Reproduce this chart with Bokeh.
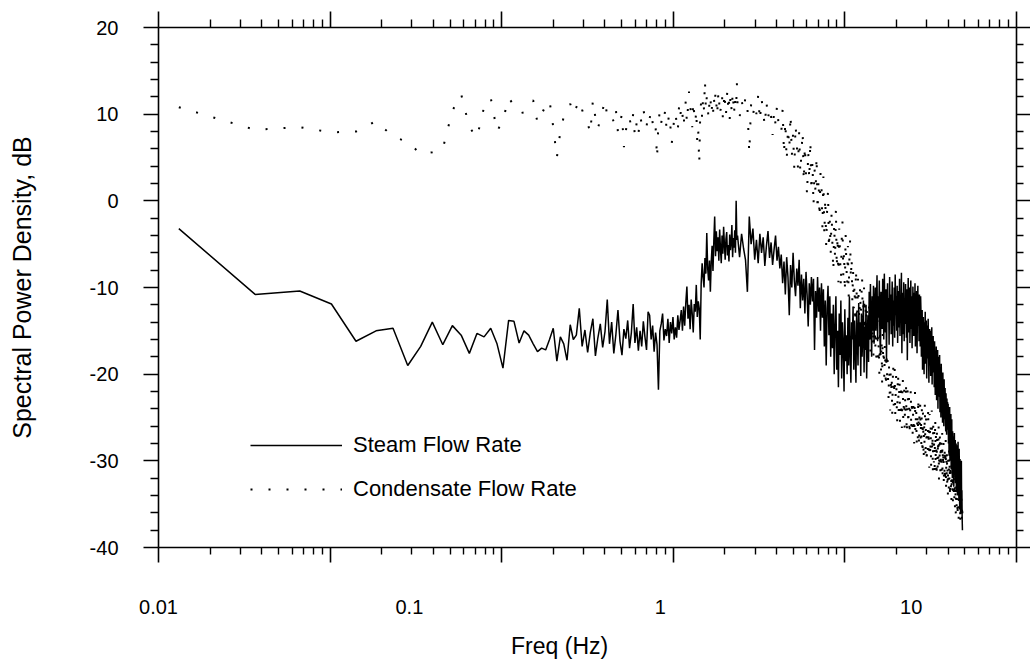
from bokeh.plotting import figure
from bokeh.models import (LogAxis, LinearAxis, FixedTicker, Legend, LegendItem,
                          Range1d, ColumnDataSource, LogScale,
                          CustomJSTickFormatter)
from bokeh.embed import file_html
from bokeh.resources import INLINE

# ---------------- data ----------------
DF = 0.0127           # frequency resolution, Hz (bin spacing)
HIGH_START_BIN = 160  # from this bin on, every 3rd bin is listed
HIGH_STEP = 3

# Steam flow rate, dB, bins 1..159
STEAM_LOW = [
    -3.2, -10.8, -10.4, -11.9, -16.2, -15.0, -14.7, -19.0, -16.8, -14.0, -16.6,
    -14.4, -15.5, -17.6, -15.3, -15.7, -14.7, -16.5, -19.3, -13.8, -13.9, -16.4,
    -15.0, -15.5, -16.5, -17.4, -17.0, -17.2, -16.0, -14.7, -18.5, -15.7, -16.5, -18.4, -14.3, -16.0, -15.5, -12.4,
    -16.8, -14.9, -17.5, -15.2, -13.6, -17.9, -15.8, -14.2, -16.9, -15.1,
    -11.4,
    -16.5, -14.0, -17.6, -15.4,
    -12.6,
    -16.2, -17.8, -14.8, -15.9, -13.8, -17.0, -15.2,
    -11.9,
    -16.4, -14.6, -17.3, -15.0, -16.8, -13.9, -15.7, -17.2, -12.8,
    -13.2,
    -16.0, -14.4, -17.4, -15.2, -16.6,
    -21.8,
    -15.0, -14.2, -13.0, -16.1, -14.8, -15.6, -13.6, -16.4, -14.0, -15.3, -13.4, -16.0, -14.6, -15.8, -13.2, -14.9,
    -13.8, -12.6, -15.0, -12.2, -14.4, -11.8, -9.9, -13.6, -12.0, -14.8, -11.4, -13.0, -15.2, -11.9, -12.8, -9.7, -13.4, -11.6, -12.4,
    -16.0,
    -9.5, -7.2, -8.8, -10.0, -6.6, -8.4, -3.7, -7.8, -9.2, -6.9,
    -10.5,
    -7.0, -5.2, -8.1, -4.6, -1.8, -6.4, -3.5, -5.8,
    -4.2, -6.9, -3.3, -5.5, -7.2, -4.0, -6.1, -3.0, -5.0, -6.8, -4.4, -3.6, -6.3, -5.1, -7.0, -3.9, -5.7, -4.8, -2.8, -6.5, -4.3, -5.4, -3.4, -6.0,
    0.0,
    -4.5,
]

# Steam flow rate, dB, bins 160, 163, 166, ...
STEAM_HIGH = [
    -4.0, -6.5, -3.8, -5.5, -6.8, -10.5, -1.8, -5.0, -3.2, -6.8, -4.5, -7.2, -3.8,
    -6.0, -4.2, -7.5, -5.2, -3.5, -6.6, -4.8, -7.4, -5.6, -4.0, -6.9, -5.3,
    -7.8, -6.2, -9.5, -7.0, -10.8, -6.5, -8.8, -13.2, -7.4, -10.0, -6.0, -9.2, -11.0, -7.8, -9.8, -6.8,
    -12.4, -8.5, -11.5, -9.0, -13.0, -8.2, -10.8, -14.5, -9.5, -12.0,
    -8.8, -11.6, -9.0, -17.2, -10.4, -13.5, -8.8, -12.8, -10.0, -15.0,
    -9.5, -13.5, -10.2, -16.8, -11.5, -19.0, -12.4, -9.8, -15.5, -11.0, -18.0,
    -13.0, -17.0, -12.0, -20.0, -14.5, -11.0, -19.5, -15.0, -21.5, -13.0, -17.8, -11.5,
    -20.5, -14.0, -16.5, -22.0, -12.5, -18.5, -15.5, -20.0, -13.5, -19.0, -11.0, -17.5,
    -21.0, -14.0, -16.0, -12.2, -19.5, -13.8, -17.0, -21.0, -12.8, -15.5, -19.0, -11.8, -16.8,
    -14.0, -20.2, -13.0, -18.0, -15.2, -11.5, -19.8, -14.5, -17.2, -12.0, -20.5, -15.8,
    -13.2, -18.6, -10.5, -16.0, -9.6, -14.0, -18.0, -11.0, -15.0, -9.8,
    -16.5, -12.5, -10.0, -15.0, -12.0, -8.6, -16.2, -11.0, -13.5, -9.2,
    -15.6, -17.8, -10.5, -12.5, -14.8, -9.0, -11.8, -16.0, -8.4, -13.0,
    -15.2, -10.2, -18.6, -12.0, -9.5, -14.0, -11.2, -16.6, -8.8, -13.8,
    -10.8, -15.4, -12.6, -9.3, -16.8, -11.5, -14.4, -10.0, -15.8, -8.5,
    -13.2, -11.0, -15.0, -9.8, -16.4, -12.2, -10.4, -14.6, -9.0, -15.6,
    -11.6, -13.6, -8.3, -17.6, -10.6, -12.8, -15.4, -9.4, -16.2, -11.4,
    -14.2, -9.6, -12.4, -15.8, -10.2, -18.4, -13.0, -8.9, -15.2, -11.8,
    -10.0, -16.4, -12.8, -9.2, -14.8, -11.0, -17.0, -13.4, -9.9, -15.6,
    -12.0, -10.6, -15.6, -9.5, -16.8, -11.2, -13.8, -10.4, -17.6, -12.6,
    -9.8, -14.4, -11.6, -16.2, -10.8, -13.0, -16.8, -11.0,
    -13.0, -18.0, -14.6, -12.6, -19.5, -15.2, -13.4, -17.4, -20.0, -14.0,
    -16.0, -12.8, -18.8, -15.0, -13.8, -20.5, -16.6, -14.4, -18.2, -13.6,
    -17.0, -21.0, -15.4, -14.8, -19.0, -16.2, -20.2, -15.0, -17.8, -14.6,
    -21.2, -16.4, -18.6, -15.6, -19.8,
    -17.0, -21.5, -16.2, -19.0, -22.4, -17.6, -20.2, -16.8, -23.0, -18.4,
    -21.0, -17.2, -24.0, -19.6, -18.0, -22.6, -20.8, -17.8, -24.4, -19.2,
    -22.0, -25.0, -18.8, -21.4, -23.6, -20.0, -25.6, -19.8, -22.8, -21.0,
    -26.0, -20.6, -23.4, -25.2, -21.6, -24.6, -26.6, -22.2, -24.0, -27.0,
    -22.8, -25.8, -23.2,
    -26.4, -23.4, -28.0, -24.8, -29.4, -25.6, -23.8, -30.0, -26.2, -28.6,
    -24.6, -31.0, -27.0, -25.2, -29.8, -32.0, -26.6, -28.4, -30.6, -27.2,
    -33.0, -28.8, -26.8, -31.4, -29.2, -27.6, -32.6, -30.2, -28.0, -33.6,
    -29.6, -31.8, -28.2, -34.0, -30.4, -27.8, -32.4,
    -30.8, -34.4, -28.6, -33.0, -35.6, -29.8, -32.2, -36.0, -31.0, -34.8,
    -30.0, -35.2, -33.4, -36.6, -38.0,
]

# Condensate flow rate, dB, bins 1..159
COND_LOW = [
    10.8, 8.2, 8.5, 7.9, 8.0, 9.2, 7.4, 6.8, 5.4, 5.6,
    6.0, 10.4, 12.3, 8.5, 7.3, 10.8, 11.9, 8.0, 9.3, 11.9,
    11.0, 10.1, 10.2, 11.3, 11.6, 9.0, 10.0, 11.0, 11.6, 8.5,
    5.0, 8.0, 9.7, 10.5, 11.2, 10.0, 10.8, 11.6, 10.5, 9.5,
    9.0, 7.8, 11.6, 9.6, 8.3, 9.5, 10.5, 11.6, 9.7, 9.9,
    10.0, 9.0, 10.5, 7.9, 9.0, 10.0, 6.2, 8.0, 9.7, 9.5,
    8.5, 10.0, 7.4, 9.0, 7.6, 9.7, 9.0, 10.5, 9.7, 8.5,
    10.1, 9.5, 10.4, 9.0, 8.0, 8.6, 4.9, 9.0, 10.4, 9.0,
    10.0, 9.5, 10.5, 8.1, 9.0, 10.0, 8.5, 6.6, 8.0, 9.5,
    10.2, 9.0, 8.0, 10.8, 9.5, 11.0, 10.0, 8.5, 10.5, 11.5,
    9.0, 10.8, 12.6, 11.0, 10.0, 8.5, 11.5, 10.0, 9.0, 10.5,
    6.6, 8.0, 4.3, 10.0, 11.5, 9.5, 12.0, 10.5, 13.9, 10.5,
    12.0, 10.8, 9.5, 11.5, 12.2, 10.0, 11.0, 9.8, 12.0, 10.8,
    12.6, 11.2, 9.8, 12.4, 10.6, 11.8, 10.4, 11.0, 12.2, 9.6,
    10.8, 12.5, 11.2, 9.8, 11.8, 12.8, 10.5, 11.6, 9.4, 12.2,
    11.0, 10.2, 12.6, 11.4, 9.9, 12.0, 11.2, 10.6, 13.7,
]

# Condensate flow rate, dB, bins 160, 163, 166, ...
COND_HIGH = [
    11.2, 9.6, 11.6, 10.4, 12.0, 10.8, 5.5, 11.2, 9.8, 11.2, 10.0, 12.2, 9.2,
    11.8, 10.2, 8.6, 11.5, 9.4, 10.8, 9.7, 7.6, 10.4, 8.8, 11.0, 9.0, 8.5,
    7.8, 10.6, 5.4, 9.2, 4.6, 8.4, 6.0, 10.0, 5.2, 7.8, 3.6, 8.8, 6.6, 3.8, 7.9, 3.2,
    5.6, 8.0, 2.2, 6.4, 3.0, 0.6, 5.8, 2.4, 7.0, 1.0, 4.6, -0.6, 3.8, 0.8, 5.2, -1.2, 2.6, -2.0, 3.2,
    1.6, -3.2, 2.8, -4.0, 0.4, -5.2, -1.0, 1.2, -5.6, -2.2, -6.0,
    -1.2, -5.4, -8.2, -2.6, -6.8, -0.8, -7.8, -4.0, -9.4, -3.2, -6.2, -10.0,
    -4.6, -2.4, -8.6, -5.8, -10.6, -3.8, -7.4, -9.8, -5.2, -11.2, -6.6, -4.4,
    -9.1, -6.5, -11.6, -8.0, -12.4, -9.6, -14.2, -7.8, -10.6, -13.0, -9.0, -11.8, -14.8,
    -10.0, -13.2, -11.0, -8.8, -13.8, -12.2, -10.0, -15.2, -11.4, -14.0, -12.0, -15.6,
    -13.0, -16.2, -11.8, -15.0, -17.4, -12.6, -14.8, -16.8, -13.4, -18.0,
    -15.4, -12.8, -17.2, -14.2, -19.0, -15.8, -13.8, -18.4, -16.4, -20.0,
    -14.6, -17.8, -19.6, -16.0, -21.0, -15.2, -18.8, -17.0, -20.6, -16.6,
    -19.4, -21.6, -17.4, -20.2, -18.2,
    -20.5, -23.0, -18.6, -21.8, -24.2, -19.6, -22.4, -20.2, -24.8, -21.2,
    -18.8, -23.6, -21.6, -19.4, -25.0, -22.0, -20.0, -23.2, -25.6, -21.4,
    -19.8, -24.4, -22.6, -20.6, -25.8, -23.4, -21.0, -24.0, -26.2, -22.2,
    -20.4, -25.4, -23.8, -21.8, -26.4, -22.8, -24.6, -20.8, -25.2, -27.0,
    -23.0, -21.4, -26.0, -24.2, -22.4, -27.2, -25.0, -23.6, -21.6, -26.6,
    -24.8, -22.8, -27.4, -25.6, -23.2, -26.2, -28.0, -24.0, -22.0, -26.8,
    -25.2, -23.8, -28.2, -26.4, -24.4, -27.6, -22.6, -25.8, -28.4, -24.6,
    -26.0, -23.4, -27.8,
    -25.0, -28.6, -23.6, -27.0, -29.4, -24.4, -26.6, -30.0, -25.6, -28.0,
    -23.2, -27.4, -29.8, -24.8, -26.2, -30.4, -27.8, -25.2, -29.0, -23.8,
    -28.4, -26.0, -30.8, -24.6, -27.2, -29.6, -25.8, -31.0, -27.6, -24.2,
    -29.2, -26.8, -31.4, -25.4, -28.8, -30.2, -26.4, -31.8, -28.2, -25.0,
    -30.6, -27.0, -29.4, -32.0, -26.2, -28.6, -31.2, -27.4, -30.0, -25.8,
    -32.2, -28.0, -29.8, -26.6, -31.6, -28.4,
    -30.4, -27.4, -31.6, -29.0, -26.8, -32.2, -28.6, -30.8, -27.8, -33.0,
    -29.6, -31.4, -28.2, -32.6, -30.2, -27.6, -33.4, -29.4, -31.8, -28.8,
    -32.8, -30.6, -34.0, -29.8, -31.2, -33.6, -28.4, -32.4, -30.0, -34.4,
    -31.0, -29.2, -33.2, -31.6, -34.6, -30.4, -32.0, -33.8, -30.8, -35.0,
    -32.6, -31.4,
    -33.6, -30.8, -34.8, -32.2, -35.4, -31.6, -34.0, -36.2, -32.8, -30.6,
    -35.8, -33.2, -31.8, -36.6, -34.4, -32.4, -35.0, -37.0, -33.8, -31.4,
    -36.0, -34.6, -32.6, -37.4, -35.2, -33.0, -36.8, -34.2, -35.6, -37.2,
    -34.8, -36.4,
]

SERIES_NAMES = ["Steam Flow Rate", "Condensate Flow Rate"]
XTICK_VALUES = [0.01, 0.1, 1, 10]
X_TITLE = "Freq (Hz)"
Y_TITLE = "Spectral Power Density, dB"
Y_MAJOR = [-40, -30, -20, -10, 0, 10, 20]
Y_MINOR = [v for v in range(-40, 21, 2) if v % 10 != 0]

# ---------------- frequency grids (FFT bins) ----------------
def bins_to_freq(low, high):
    f_low = [DF * k for k in range(1, len(low) + 1)]
    f_high = [DF * (HIGH_START_BIN + HIGH_STEP * i) for i in range(len(high))]
    return f_low + f_high

steam_src = ColumnDataSource(dict(f=bins_to_freq(STEAM_LOW, STEAM_HIGH),
                                  db=STEAM_LOW + STEAM_HIGH))
cond_src = ColumnDataSource(dict(f=bins_to_freq(COND_LOW, COND_HIGH),
                                 db=COND_LOW + COND_HIGH))

# ---------------- figure ----------------
XMIN, XMAX = 0.010560, 25.61        # data range across the frame
LAB_MIN, LAB_MAX = 0.0099999, 26.29  # the printed decade labels' own scale
TITLE_AT = 0.397                    # where the printed x title sits on that scale
FONT = "Liberation Sans"

p = figure(width=1030, height=661, x_axis_type="log",
           x_range=Range1d(XMIN, XMAX), y_range=Range1d(-40, 20),
           output_backend="svg", toolbar_location=None,
           min_border_left=158, min_border_right=14,
           min_border_top=27, min_border_bottom=113)
p.extra_x_ranges = {"lab": Range1d(LAB_MIN, LAB_MAX)}
p.extra_x_scales = {"lab": LogScale()}
p.xgrid.visible = False
p.ygrid.visible = False
p.outline_line_color = None
p.background_fill_color = "white"
p.border_fill_color = "white"

# the original's tick marks run on their own (wider) log cycle
TICK_CYCLE = 0.6769           # log10 of ratio between tick-mark "decades"
ratio = 10 ** TICK_CYCLE
x_major = [XMIN * ratio ** j for j in range(6)]
x_major[0] *= 1.0002
x_major[-1] *= 0.9998
x_minor = [XMIN * ratio ** j * m ** TICK_CYCLE for j in range(5) for m in range(2, 10)]
x_ticker = FixedTicker(ticks=x_major, minor_ticks=x_minor)
y_ticker = FixedTicker(ticks=Y_MAJOR, minor_ticks=Y_MINOR)
plain = CustomJSTickFormatter(code="return tick.toString()")


def style_axis(ax, major_out, minor_out, show_labels=False):
    ax.axis_line_color = "black"
    ax.axis_line_width = 1.6
    ax.major_tick_line_color = "black"
    ax.major_tick_line_width = 1.6
    ax.minor_tick_line_color = "black"
    ax.minor_tick_line_width = 1.4
    ax.major_tick_in = 0
    ax.minor_tick_in = 0
    ax.major_tick_out = major_out
    ax.minor_tick_out = minor_out
    if not show_labels:
        ax.major_label_text_font_size = "0px"
        ax.major_label_text_color = None
        ax.major_label_standoff = 0


def text_only_axis(ax, standoff, size):
    ax.axis_line_color = None
    ax.major_tick_line_color = None
    ax.minor_tick_line_color = None
    ax.major_tick_out = 0
    ax.minor_tick_out = 0
    ax.major_label_standoff = standoff
    ax.major_label_text_font = FONT
    ax.major_label_text_font_size = size
    ax.major_label_text_color = "black"


# bottom: tick marks only
xb = p.xaxis[0]
xb.ticker = x_ticker
style_axis(xb, 15, 7)
# bottom: printed decade labels
xlab = LinearAxis(x_range_name="lab",
                  ticker=FixedTicker(ticks=XTICK_VALUES, minor_ticks=[]),
                  formatter=plain)
text_only_axis(xlab, 37, "20px")
p.add_layout(xlab, "below")
# bottom: printed axis title (placed where the original has it)
xtitle = LinearAxis(x_range_name="lab",
                    ticker=FixedTicker(ticks=[TITLE_AT], minor_ticks=[]),
                    formatter=CustomJSTickFormatter(args=dict(t=X_TITLE),
                                                    code="return t"))
text_only_axis(xtitle, 16, "23px")
p.add_layout(xtitle, "below")
# top
xt = LogAxis(ticker=x_ticker)
style_axis(xt, 16, 8)
p.add_layout(xt, "above")
# left
yl = p.yaxis[0]
yl.ticker = y_ticker
yl.formatter = plain
style_axis(yl, 15, 8, show_labels=True)
yl.major_label_text_font = FONT
yl.major_label_text_font_size = "20px"
yl.major_label_text_color = "black"
yl.major_label_standoff = 25
yl.axis_label = Y_TITLE
yl.axis_label_text_font = FONT
yl.axis_label_text_font_size = "25px"
yl.axis_label_text_font_style = "normal"
yl.axis_label_text_color = "black"
yl.axis_label_standoff = 51
# right
yr = LinearAxis(ticker=y_ticker)
style_axis(yr, 14, 7)
p.add_layout(yr, "right")

# ---------------- series ----------------
r_cond = p.line("f", "db", source=cond_src, line_color="black",
                line_width=2.0, line_dash="2 16")
r_steam = p.line("f", "db", source=steam_src, line_color="black",
                 line_width=1.5)

legend = Legend(items=[LegendItem(label=SERIES_NAMES[0], renderers=[r_steam]),
                       LegendItem(label=SERIES_NAMES[1], renderers=[r_cond])],
                location=(92, 45), orientation="vertical",
                glyph_width=92, glyph_height=22, label_height=22,
                label_standoff=11, spacing=18, padding=0, margin=0,
                border_line_color=None, background_fill_alpha=0,
                label_text_font=FONT, label_text_font_size="22px",
                label_text_color="black")
p.add_layout(legend)

open("out.html", "w").write(file_html(p, INLINE))
